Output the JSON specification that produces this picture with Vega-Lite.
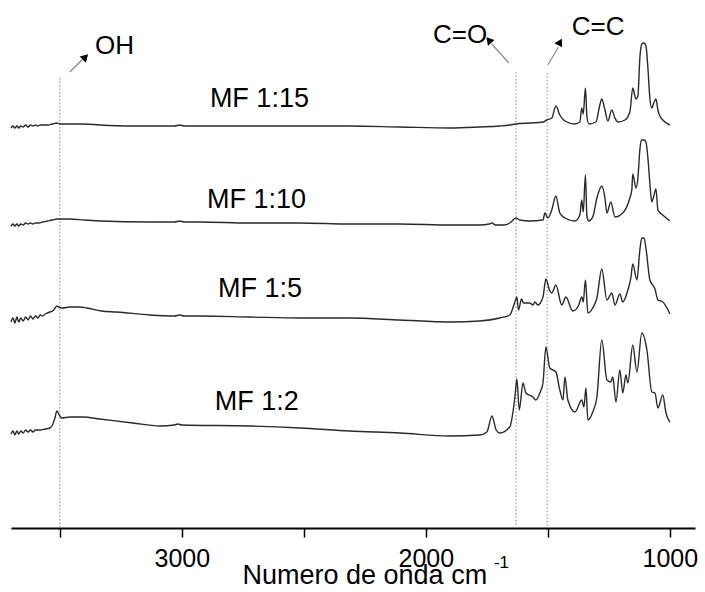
{
  "$schema": "https://vega.github.io/schema/vega-lite/v6.json",
  "autosize": {"type": "none"},
  "width": 684,
  "height": 528,
  "padding": {"left": 11, "top": 0, "right": 10, "bottom": 64},
  "background": "white",
  "config": {"view": {"stroke": null}, "font": "Liberation Sans"},
  "datasets": {
    "spectra": [
      {"s":"MF 1:15","wn":3700,"a":400},{"s":"MF 1:15","wn":3692,"a":402},{"s":"MF 1:15","wn":3684,"a":400},{"s":"MF 1:15","wn":3676,"a":402},{"s":"MF 1:15","wn":3668,"a":400},{"s":"MF 1:15","wn":3660,"a":402},{"s":"MF 1:15","wn":3650,"a":401},{"s":"MF 1:15","wn":3640,"a":403},{"s":"MF 1:15","wn":3630,"a":401},{"s":"MF 1:15","wn":3620,"a":403},{"s":"MF 1:15","wn":3610,"a":402},{"s":"MF 1:15","wn":3600,"a":403},{"s":"MF 1:15","wn":3590,"a":402},{"s":"MF 1:15","wn":3580,"a":403},{"s":"MF 1:15","wn":3565,"a":403},{"s":"MF 1:15","wn":3550,"a":403},{"s":"MF 1:15","wn":3530,"a":404},{"s":"MF 1:15","wn":3512,"a":405},{"s":"MF 1:15","wn":3500,"a":404},{"s":"MF 1:15","wn":3459,"a":404},{"s":"MF 1:15","wn":3400,"a":404},{"s":"MF 1:15","wn":3336,"a":403},{"s":"MF 1:15","wn":3200,"a":402},{"s":"MF 1:15","wn":3131,"a":402},{"s":"MF 1:15","wn":3030,"a":402},{"s":"MF 1:15","wn":3008,"a":403},{"s":"MF 1:15","wn":2990,"a":402},{"s":"MF 1:15","wn":2926,"a":402},{"s":"MF 1:15","wn":2721,"a":402},{"s":"MF 1:15","wn":2516,"a":402},{"s":"MF 1:15","wn":2311,"a":402},{"s":"MF 1:15","wn":2106,"a":401},{"s":"MF 1:15","wn":1902,"a":400},{"s":"MF 1:15","wn":1779,"a":401},{"s":"MF 1:15","wn":1697,"a":402},{"s":"MF 1:15","wn":1656,"a":403},{"s":"MF 1:15","wn":1631,"a":404},{"s":"MF 1:15","wn":1574,"a":405},{"s":"MF 1:15","wn":1520,"a":406},{"s":"MF 1:15","wn":1504,"a":408},{"s":"MF 1:15","wn":1484,"a":410},{"s":"MF 1:15","wn":1467,"a":422},{"s":"MF 1:15","wn":1451,"a":413},{"s":"MF 1:15","wn":1430,"a":407},{"s":"MF 1:15","wn":1389,"a":404},{"s":"MF 1:15","wn":1369,"a":406},{"s":"MF 1:15","wn":1361,"a":420},{"s":"MF 1:15","wn":1355,"a":414},{"s":"MF 1:15","wn":1346,"a":440},{"s":"MF 1:15","wn":1340,"a":412},{"s":"MF 1:15","wn":1332,"a":404},{"s":"MF 1:15","wn":1303,"a":406},{"s":"MF 1:15","wn":1287,"a":423},{"s":"MF 1:15","wn":1279,"a":429},{"s":"MF 1:15","wn":1266,"a":418},{"s":"MF 1:15","wn":1254,"a":407},{"s":"MF 1:15","wn":1238,"a":418},{"s":"MF 1:15","wn":1225,"a":410},{"s":"MF 1:15","wn":1213,"a":406},{"s":"MF 1:15","wn":1184,"a":408},{"s":"MF 1:15","wn":1164,"a":416},{"s":"MF 1:15","wn":1152,"a":440},{"s":"MF 1:15","wn":1139,"a":429},{"s":"MF 1:15","wn":1131,"a":432},{"s":"MF 1:15","wn":1123,"a":470},{"s":"MF 1:15","wn":1115,"a":484},{"s":"MF 1:15","wn":1106,"a":485},{"s":"MF 1:15","wn":1098,"a":482},{"s":"MF 1:15","wn":1090,"a":460},{"s":"MF 1:15","wn":1082,"a":430},{"s":"MF 1:15","wn":1074,"a":420},{"s":"MF 1:15","wn":1066,"a":425},{"s":"MF 1:15","wn":1057,"a":429},{"s":"MF 1:15","wn":1049,"a":418},{"s":"MF 1:15","wn":1041,"a":412},{"s":"MF 1:15","wn":1029,"a":408},{"s":"MF 1:15","wn":1000,"a":403},

      {"s":"MF 1:10","wn":3700,"a":302},{"s":"MF 1:10","wn":3692,"a":304},{"s":"MF 1:10","wn":3684,"a":302},{"s":"MF 1:10","wn":3676,"a":304},{"s":"MF 1:10","wn":3668,"a":302},{"s":"MF 1:10","wn":3660,"a":304},{"s":"MF 1:10","wn":3650,"a":303},{"s":"MF 1:10","wn":3640,"a":305},{"s":"MF 1:10","wn":3630,"a":304},{"s":"MF 1:10","wn":3620,"a":305},{"s":"MF 1:10","wn":3610,"a":304},{"s":"MF 1:10","wn":3600,"a":305},{"s":"MF 1:10","wn":3585,"a":305},{"s":"MF 1:10","wn":3570,"a":306},{"s":"MF 1:10","wn":3550,"a":307},{"s":"MF 1:10","wn":3530,"a":308},{"s":"MF 1:10","wn":3512,"a":309},{"s":"MF 1:10","wn":3490,"a":309},{"s":"MF 1:10","wn":3459,"a":309},{"s":"MF 1:10","wn":3400,"a":308},{"s":"MF 1:10","wn":3336,"a":307},{"s":"MF 1:10","wn":3131,"a":306},{"s":"MF 1:10","wn":3030,"a":306},{"s":"MF 1:10","wn":3008,"a":307},{"s":"MF 1:10","wn":2990,"a":306},{"s":"MF 1:10","wn":2926,"a":306},{"s":"MF 1:10","wn":2721,"a":305},{"s":"MF 1:10","wn":2516,"a":305},{"s":"MF 1:10","wn":2311,"a":304},{"s":"MF 1:10","wn":2106,"a":304},{"s":"MF 1:10","wn":1902,"a":303},{"s":"MF 1:10","wn":1779,"a":303},{"s":"MF 1:10","wn":1740,"a":304},{"s":"MF 1:10","wn":1729,"a":305},{"s":"MF 1:10","wn":1715,"a":303},{"s":"MF 1:10","wn":1680,"a":303},{"s":"MF 1:10","wn":1656,"a":305},{"s":"MF 1:10","wn":1631,"a":310},{"s":"MF 1:10","wn":1615,"a":308},{"s":"MF 1:10","wn":1574,"a":307},{"s":"MF 1:10","wn":1520,"a":308},{"s":"MF 1:10","wn":1512,"a":315},{"s":"MF 1:10","wn":1500,"a":310},{"s":"MF 1:10","wn":1484,"a":318},{"s":"MF 1:10","wn":1467,"a":332},{"s":"MF 1:10","wn":1451,"a":315},{"s":"MF 1:10","wn":1430,"a":310},{"s":"MF 1:10","wn":1389,"a":307},{"s":"MF 1:10","wn":1369,"a":313},{"s":"MF 1:10","wn":1361,"a":328},{"s":"MF 1:10","wn":1355,"a":316},{"s":"MF 1:10","wn":1346,"a":353},{"s":"MF 1:10","wn":1340,"a":312},{"s":"MF 1:10","wn":1332,"a":307},{"s":"MF 1:10","wn":1316,"a":311},{"s":"MF 1:10","wn":1299,"a":330},{"s":"MF 1:10","wn":1279,"a":342},{"s":"MF 1:10","wn":1266,"a":330},{"s":"MF 1:10","wn":1258,"a":315},{"s":"MF 1:10","wn":1242,"a":326},{"s":"MF 1:10","wn":1225,"a":311},{"s":"MF 1:10","wn":1193,"a":315},{"s":"MF 1:10","wn":1164,"a":330},{"s":"MF 1:10","wn":1156,"a":338},{"s":"MF 1:10","wn":1152,"a":354},{"s":"MF 1:10","wn":1139,"a":340},{"s":"MF 1:10","wn":1131,"a":350},{"s":"MF 1:10","wn":1123,"a":378},{"s":"MF 1:10","wn":1117,"a":388},{"s":"MF 1:10","wn":1106,"a":388},{"s":"MF 1:10","wn":1098,"a":386},{"s":"MF 1:10","wn":1090,"a":370},{"s":"MF 1:10","wn":1082,"a":345},{"s":"MF 1:10","wn":1074,"a":326},{"s":"MF 1:10","wn":1066,"a":332},{"s":"MF 1:10","wn":1057,"a":339},{"s":"MF 1:10","wn":1049,"a":318},{"s":"MF 1:10","wn":1029,"a":313},{"s":"MF 1:10","wn":1000,"a":307},

      {"s":"MF 1:5","wn":3700,"a":206},{"s":"MF 1:5","wn":3692,"a":210},{"s":"MF 1:5","wn":3684,"a":205},{"s":"MF 1:5","wn":3676,"a":211},{"s":"MF 1:5","wn":3668,"a":206},{"s":"MF 1:5","wn":3660,"a":210},{"s":"MF 1:5","wn":3650,"a":207},{"s":"MF 1:5","wn":3640,"a":211},{"s":"MF 1:5","wn":3630,"a":208},{"s":"MF 1:5","wn":3620,"a":212},{"s":"MF 1:5","wn":3610,"a":209},{"s":"MF 1:5","wn":3600,"a":212},{"s":"MF 1:5","wn":3590,"a":210},{"s":"MF 1:5","wn":3580,"a":213},{"s":"MF 1:5","wn":3570,"a":212},{"s":"MF 1:5","wn":3560,"a":214},{"s":"MF 1:5","wn":3540,"a":216},{"s":"MF 1:5","wn":3525,"a":218},{"s":"MF 1:5","wn":3512,"a":222},{"s":"MF 1:5","wn":3505,"a":221},{"s":"MF 1:5","wn":3490,"a":220},{"s":"MF 1:5","wn":3459,"a":221},{"s":"MF 1:5","wn":3420,"a":221},{"s":"MF 1:5","wn":3389,"a":220},{"s":"MF 1:5","wn":3330,"a":217},{"s":"MF 1:5","wn":3266,"a":216},{"s":"MF 1:5","wn":3131,"a":213},{"s":"MF 1:5","wn":3030,"a":212},{"s":"MF 1:5","wn":3008,"a":213},{"s":"MF 1:5","wn":2990,"a":212},{"s":"MF 1:5","wn":2926,"a":212},{"s":"MF 1:5","wn":2721,"a":211},{"s":"MF 1:5","wn":2516,"a":210},{"s":"MF 1:5","wn":2311,"a":210},{"s":"MF 1:5","wn":2106,"a":208},{"s":"MF 1:5","wn":1902,"a":206},{"s":"MF 1:5","wn":1779,"a":207},{"s":"MF 1:5","wn":1697,"a":210},{"s":"MF 1:5","wn":1656,"a":213},{"s":"MF 1:5","wn":1635,"a":226},{"s":"MF 1:5","wn":1627,"a":231},{"s":"MF 1:5","wn":1620,"a":218},{"s":"MF 1:5","wn":1608,"a":229},{"s":"MF 1:5","wn":1600,"a":225},{"s":"MF 1:5","wn":1574,"a":225},{"s":"MF 1:5","wn":1561,"a":223},{"s":"MF 1:5","wn":1553,"a":226},{"s":"MF 1:5","wn":1541,"a":223},{"s":"MF 1:5","wn":1520,"a":231},{"s":"MF 1:5","wn":1508,"a":249},{"s":"MF 1:5","wn":1492,"a":237},{"s":"MF 1:5","wn":1484,"a":235},{"s":"MF 1:5","wn":1467,"a":243},{"s":"MF 1:5","wn":1443,"a":223},{"s":"MF 1:5","wn":1426,"a":231},{"s":"MF 1:5","wn":1398,"a":217},{"s":"MF 1:5","wn":1375,"a":222},{"s":"MF 1:5","wn":1361,"a":231},{"s":"MF 1:5","wn":1355,"a":226},{"s":"MF 1:5","wn":1346,"a":248},{"s":"MF 1:5","wn":1336,"a":215},{"s":"MF 1:5","wn":1316,"a":220},{"s":"MF 1:5","wn":1299,"a":230},{"s":"MF 1:5","wn":1279,"a":259},{"s":"MF 1:5","wn":1258,"a":228},{"s":"MF 1:5","wn":1238,"a":235},{"s":"MF 1:5","wn":1225,"a":223},{"s":"MF 1:5","wn":1205,"a":234},{"s":"MF 1:5","wn":1193,"a":226},{"s":"MF 1:5","wn":1172,"a":238},{"s":"MF 1:5","wn":1160,"a":250},{"s":"MF 1:5","wn":1152,"a":264},{"s":"MF 1:5","wn":1135,"a":248},{"s":"MF 1:5","wn":1123,"a":278},{"s":"MF 1:5","wn":1115,"a":290},{"s":"MF 1:5","wn":1106,"a":290},{"s":"MF 1:5","wn":1098,"a":280},{"s":"MF 1:5","wn":1082,"a":248},{"s":"MF 1:5","wn":1061,"a":239},{"s":"MF 1:5","wn":1049,"a":228},{"s":"MF 1:5","wn":1037,"a":227},{"s":"MF 1:5","wn":1029,"a":226},{"s":"MF 1:5","wn":1000,"a":214},

      {"s":"MF 1:2","wn":3700,"a":94},{"s":"MF 1:2","wn":3692,"a":97},{"s":"MF 1:2","wn":3684,"a":93},{"s":"MF 1:2","wn":3676,"a":97},{"s":"MF 1:2","wn":3668,"a":94},{"s":"MF 1:2","wn":3660,"a":97},{"s":"MF 1:2","wn":3650,"a":95},{"s":"MF 1:2","wn":3640,"a":98},{"s":"MF 1:2","wn":3630,"a":96},{"s":"MF 1:2","wn":3620,"a":98},{"s":"MF 1:2","wn":3610,"a":96},{"s":"MF 1:2","wn":3600,"a":98},{"s":"MF 1:2","wn":3580,"a":98},{"s":"MF 1:2","wn":3560,"a":99},{"s":"MF 1:2","wn":3541,"a":100},{"s":"MF 1:2","wn":3530,"a":103},{"s":"MF 1:2","wn":3520,"a":110},{"s":"MF 1:2","wn":3512,"a":117},{"s":"MF 1:2","wn":3500,"a":112},{"s":"MF 1:2","wn":3492,"a":110},{"s":"MF 1:2","wn":3459,"a":111},{"s":"MF 1:2","wn":3405,"a":111},{"s":"MF 1:2","wn":3336,"a":109},{"s":"MF 1:2","wn":3201,"a":105},{"s":"MF 1:2","wn":3090,"a":102},{"s":"MF 1:2","wn":3030,"a":103},{"s":"MF 1:2","wn":3016,"a":104},{"s":"MF 1:2","wn":3000,"a":103},{"s":"MF 1:2","wn":2721,"a":102},{"s":"MF 1:2","wn":2516,"a":100},{"s":"MF 1:2","wn":2311,"a":97},{"s":"MF 1:2","wn":2106,"a":95},{"s":"MF 1:2","wn":1902,"a":92},{"s":"MF 1:2","wn":1779,"a":93},{"s":"MF 1:2","wn":1750,"a":96},{"s":"MF 1:2","wn":1729,"a":112},{"s":"MF 1:2","wn":1712,"a":98},{"s":"MF 1:2","wn":1697,"a":95},{"s":"MF 1:2","wn":1656,"a":101},{"s":"MF 1:2","wn":1635,"a":131},{"s":"MF 1:2","wn":1627,"a":149},{"s":"MF 1:2","wn":1617,"a":118},{"s":"MF 1:2","wn":1602,"a":145},{"s":"MF 1:2","wn":1590,"a":135},{"s":"MF 1:2","wn":1561,"a":131},{"s":"MF 1:2","wn":1549,"a":128},{"s":"MF 1:2","wn":1533,"a":135},{"s":"MF 1:2","wn":1520,"a":145},{"s":"MF 1:2","wn":1508,"a":181},{"s":"MF 1:2","wn":1492,"a":160},{"s":"MF 1:2","wn":1467,"a":156},{"s":"MF 1:2","wn":1451,"a":138},{"s":"MF 1:2","wn":1438,"a":128},{"s":"MF 1:2","wn":1430,"a":151},{"s":"MF 1:2","wn":1418,"a":128},{"s":"MF 1:2","wn":1389,"a":116},{"s":"MF 1:2","wn":1361,"a":128},{"s":"MF 1:2","wn":1352,"a":121},{"s":"MF 1:2","wn":1344,"a":140},{"s":"MF 1:2","wn":1336,"a":108},{"s":"MF 1:2","wn":1316,"a":116},{"s":"MF 1:2","wn":1299,"a":131},{"s":"MF 1:2","wn":1279,"a":188},{"s":"MF 1:2","wn":1258,"a":148},{"s":"MF 1:2","wn":1242,"a":146},{"s":"MF 1:2","wn":1234,"a":151},{"s":"MF 1:2","wn":1221,"a":126},{"s":"MF 1:2","wn":1205,"a":158},{"s":"MF 1:2","wn":1193,"a":135},{"s":"MF 1:2","wn":1180,"a":153},{"s":"MF 1:2","wn":1172,"a":145},{"s":"MF 1:2","wn":1152,"a":183},{"s":"MF 1:2","wn":1135,"a":156},{"s":"MF 1:2","wn":1115,"a":195},{"s":"MF 1:2","wn":1094,"a":178},{"s":"MF 1:2","wn":1074,"a":136},{"s":"MF 1:2","wn":1061,"a":135},{"s":"MF 1:2","wn":1049,"a":120},{"s":"MF 1:2","wn":1029,"a":133},{"s":"MF 1:2","wn":1016,"a":115},{"s":"MF 1:2","wn":1000,"a":106}
    ],
    "vlines": [
      {"wn": 3500, "top": 450},
      {"wn": 1630, "top": 456},
      {"wn": 1503, "top": 455}
    ],
    "labels": [
      {"t": "MF 1:15", "wn": 2885, "a": 421},
      {"t": "MF 1:10", "wn": 2897, "a": 320},
      {"t": "MF 1:5", "wn": 2852, "a": 231},
      {"t": "MF 1:2", "wn": 2865, "a": 118}
    ],
    "groups": [
      {"t": "OH", "wn": 3356, "a": 474},
      {"t": "C=O", "wn": 1971, "a": 485},
      {"t": "C=C", "wn": 1402, "a": 493}
    ],
    "arrows": [
      {"g": "OH", "wn": 3459, "a": 456, "wn2": 3405, "a2": 469},
      {"g": "C=O", "wn": 1660, "a": 465, "wn2": 1730, "a2": 484},
      {"g": "C=C", "wn": 1500, "a": 463, "wn2": 1457, "a2": 481}
    ]
  },
  "encoding": {
    "x": {"field": "wn", "type": "quantitative",
      "scale": {"domain": [3700, 897], "nice": false, "zero": false},
      "axis": {
        "values": [3500, 3000, 2500, 2000, 1500, 1000],
        "format": "d",
        "labelExpr": "datum.value % 1000 == 0 ? datum.label : ''",
        "grid": false,
        "domainColor": "black", "domainWidth": 2,
        "tickColor": "black", "tickWidth": 1.5, "tickSize": 9,
        "labelFont": "Liberation Sans", "labelFontSize": 25, "labelColor": "black",
        "labelPadding": 9, "labelFlush": false, "labelOverlap": false,
        "title": "Numero de onda cm",
        "titleFont": "Liberation Sans", "titleFontSize": 27, "titleFontWeight": "normal",
        "titleColor": "black", "titleX": 231, "titleY": 55,
        "titleAlign": "left", "titleBaseline": "alphabetic", "titleAnchor": "start"
      }
    },
    "y": {"field": "a", "type": "quantitative",
      "scale": {"domain": [0, 528], "nice": false, "zero": false},
      "axis": null}
  },
  "layer": [
    {
      "data": {"name": "vlines"},
      "mark": {"type": "rule", "color": "#8a8a8a", "strokeWidth": 1, "strokeDash": [1.5, 2]},
      "encoding": {"y": {"field": "top", "type": "quantitative"}, "y2": {"datum": 0}}
    },
    {
      "data": {"name": "spectra"},
      "mark": {"type": "line", "color": "#2a2a2a", "strokeWidth": 1.4, "interpolate": "monotone"},
      "encoding": {"detail": {"field": "s"}}
    },
    {
      "data": {"name": "labels"},
      "mark": {"type": "text", "align": "left", "baseline": "alphabetic", "fontSize": 27, "font": "Liberation Sans", "color": "black"},
      "encoding": {"text": {"field": "t"}}
    },
    {
      "data": {"name": "groups"},
      "mark": {"type": "text", "align": "left", "baseline": "alphabetic", "fontSize": 26, "font": "Liberation Sans", "color": "black"},
      "encoding": {"text": {"field": "t"}}
    },
    {
      "data": {"name": "arrows"},
      "mark": {"type": "rule", "color": "#8a8a8a", "strokeWidth": 1.2},
      "encoding": {"x2": {"field": "wn2"}, "y2": {"field": "a2"}}
    },
    {
      "data": {"values": [{"wn": 3395, "a": 471}]},
      "mark": {"type": "point", "shape": "triangle-up", "filled": true, "color": "black", "size": 75, "angle": 45, "opacity": 1}
    },
    {
      "data": {"values": [{"wn": 1742, "a": 488}]},
      "mark": {"type": "point", "shape": "triangle-up", "filled": true, "color": "black", "size": 75, "angle": 319, "opacity": 1}
    },
    {
      "data": {"values": [{"wn": 1450, "a": 486}]},
      "mark": {"type": "point", "shape": "triangle-up", "filled": true, "color": "black", "size": 75, "angle": 28, "opacity": 1}
    },
    {
      "data": {"values": [{"t": "-1", "wn": 1721, "a": -40}]},
      "mark": {"type": "text", "align": "left", "baseline": "alphabetic", "fontSize": 17, "font": "Liberation Sans", "color": "black"},
      "encoding": {"text": {"field": "t"}}
    }
  ]
}
